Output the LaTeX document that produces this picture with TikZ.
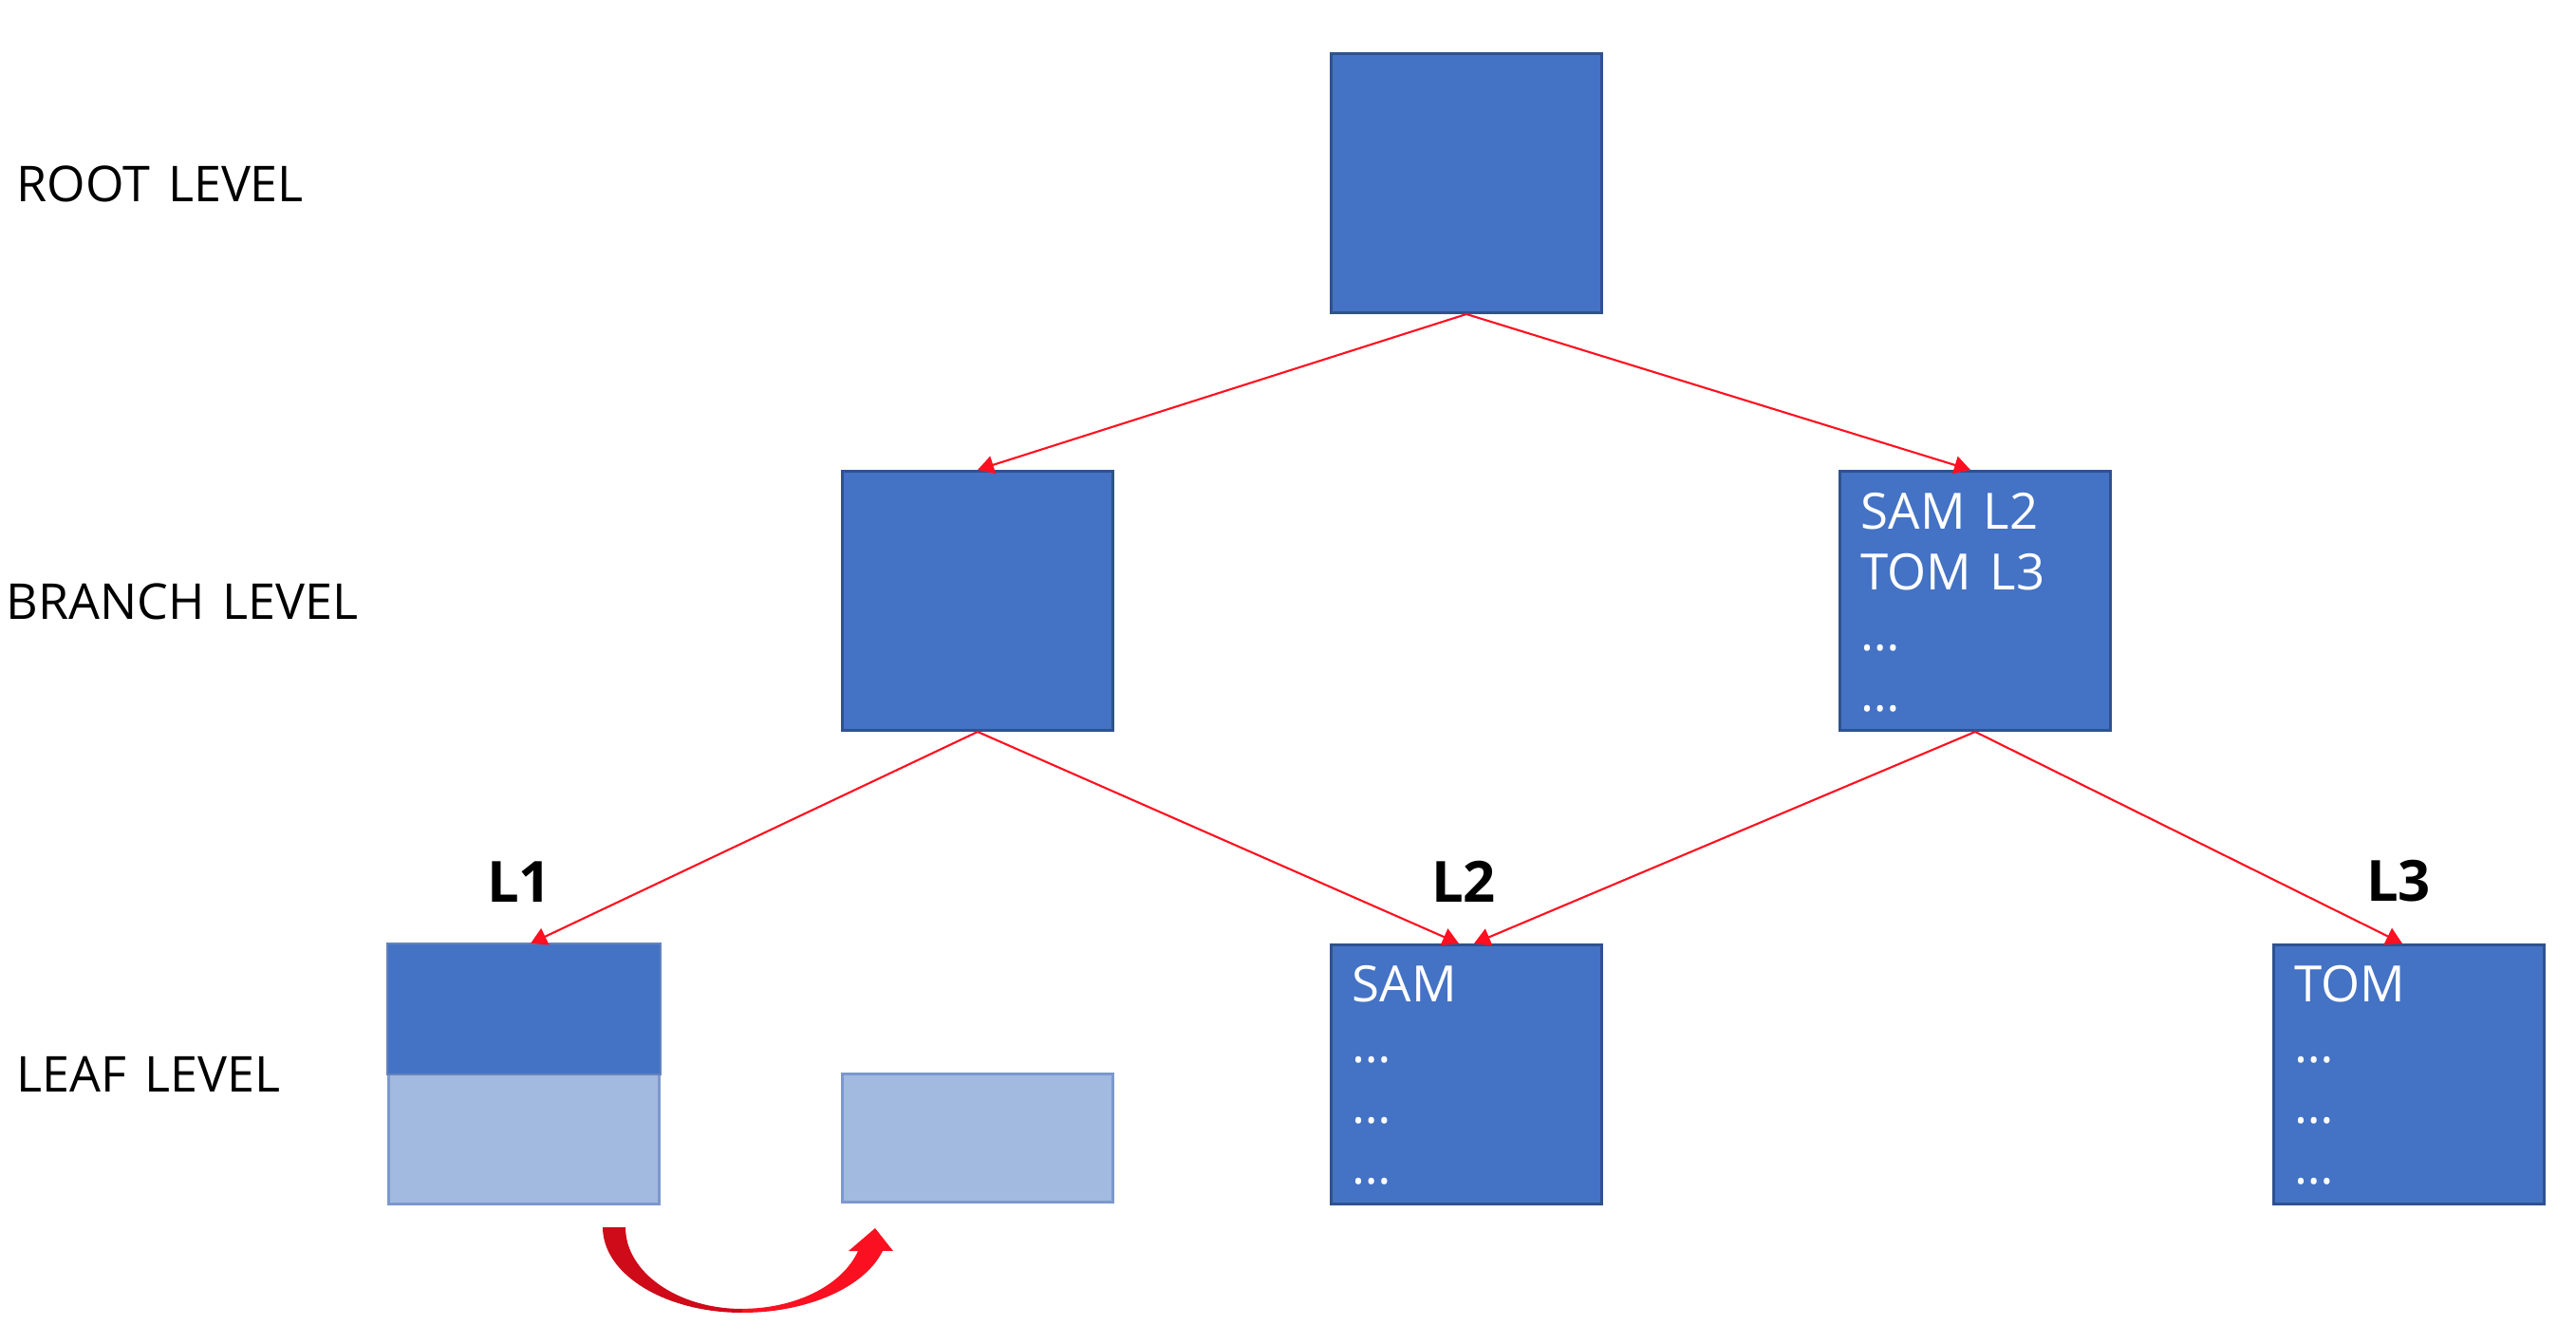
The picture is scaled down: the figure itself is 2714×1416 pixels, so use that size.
\documentclass[tikz,border=0pt]{standalone}
\usepackage{fontspec}
\setmainfont{Open Sans}[WordSpace=1.4]
\usepackage{tikz}
\usetikzlibrary{arrows.meta, positioning}
\usepackage{xcolor}

\definecolor{boxblue}{HTML}{4472C4}
\definecolor{boxline}{HTML}{2F528F}
\definecolor{paleblue}{HTML}{A2B9E0}
\definecolor{paleline}{HTML}{7C98CC}
\definecolor{linkred}{HTML}{FF1020}
\definecolor{turnred}{HTML}{FA1020}
\definecolor{turndark}{HTML}{CF0A19}

\begin{document}
\begin{tikzpicture}[
    x=0.01cm, y=0.01cm,
    every node/.style={inner sep=0pt},
    blk/.style={draw=boxline, fill=boxblue, line width=0.8pt, minimum width=2.85cm, minimum height=2.73cm},
    lvl/.style={anchor=west, font=\fontsize{14.8}{18}\selectfont},
    tag/.style={font=\fontsize{17}{20}\selectfont\bfseries},
    keys/.style={anchor=north west, align=left, text=white, font=\fontsize{15}{18.2}\selectfont},
    arrow/.style={-{Triangle[length=1.7mm, width=1.9mm]}, draw=linkred, line width=0.6pt}
]
\useasboundingbox (0,0) rectangle (2714,-1416);

% Level names
\node[lvl] (rootlvl) at (17,-194) {ROOT LEVEL};
\node[lvl] (branchlvl) at (6,-634) {BRANCH LEVEL};
\node[lvl] (leaflvl) at (17,-1132) {LEAF LEVEL};

% Nodes
\node[blk] (root) at (1545,-193) {};
\node[blk] (brL) at (1030,-633) {};
\node[blk] (brR) at (2081,-633) {};
\node[blk, fill=paleblue, draw=paleline] (l1) at (552,-1132) {};
\draw[fill=boxblue, draw=paleline!70!boxline, line width=0.8pt] (l1.north west) rectangle (l1.east);
\node[blk, fill=paleblue, draw=paleline, minimum height=1.35cm] (spare) at (1030,-1199) {};
\node[blk] (l2) at (1545,-1132) {};
\node[blk] (l3) at (2538,-1132) {};

% Keys
\node[keys] (brRkeys) at ([xshift=0.23cm, yshift=-0.24cm]brR.north west) {SAM L2\\TOM L3\\…\\…};
\node[keys] (l2keys) at ([xshift=0.23cm, yshift=-0.23cm]l2.north west) {SAM\\…\\…\\…};
\node[keys] (l3keys) at ([xshift=0.23cm, yshift=-0.23cm]l3.north west) {TOM\\…\\…\\…};

% Leaf tags
\node[tag, above=0.43cm of l1, xshift=-0.05cm] (t1) {L1};
\node[tag, above=0.43cm of l2, xshift=-0.03cm] (t2) {L2};
\node[tag, above=0.43cm of l3, xshift=-0.11cm] (t3) {L3};

% Arrows
\draw[arrow] (root.south) -- (brL.north);
\draw[arrow] (root.south) -- ([xshift=-0.05cm]brR.north);
\draw[arrow] (brL.south) -- ([xshift=0.07cm]l1.north);
\draw[arrow] (brL.south) -- ([xshift=-0.08cm]l2.north);
\draw[arrow] (brR.south) -- ([xshift=0.08cm]l2.north);
\draw[arrow] (brR.south) -- ([xshift=-0.07cm]l3.north);

% Page split arrow
\fill[turndark] (635,-1293) arc[start angle=180, end angle=270, x radius=147, y radius=90]
    -- (782,-1379) arc[start angle=270, end angle=180, x radius=123, y radius=86] -- cycle;
\fill[turnred] (782,-1383) arc[start angle=270, end angle=344, x radius=154, y radius=90]
    -- (941,-1318) -- (922,-1294) -- (894,-1318) -- (904,-1318)
    arc[start angle=343, end angle=270, x radius=127.5, y radius=86] -- cycle;

\end{tikzpicture}
\end{document}
